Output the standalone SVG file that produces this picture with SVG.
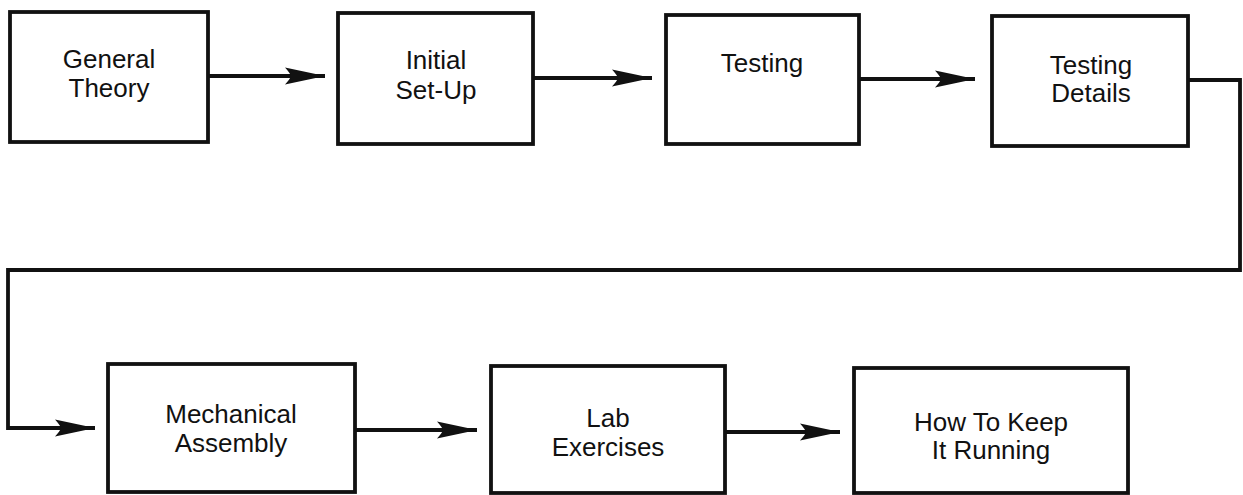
<svg xmlns="http://www.w3.org/2000/svg" width="1243" height="495" viewBox="0 0 1243 495">
<style>
.box{fill:#fff;stroke:#111;stroke-width:3.8}
.ln{fill:none;stroke:#111;stroke-width:3.8;stroke-linejoin:miter}
.t{font-family:"Liberation Sans",Arial,Helvetica,sans-serif;font-size:26px;fill:#111;text-anchor:middle}
</style>
<defs>
<marker id="ah" markerUnits="userSpaceOnUse" markerWidth="44" markerHeight="22" viewBox="-42 -11 44 22" refX="0" refY="0" orient="auto">
<path d="M0,0 L-40,-8.5 Q-35,-3 -34,0 Q-35,3 -40,8.5 Z" fill="#111"/>
</marker>
</defs>
<rect width="1243" height="495" fill="#fff"/>
<g id="connectors">
<path class="ln" d="M208,76 H325" marker-end="url(#ah)"/>
<path class="ln" d="M533,78 H652" marker-end="url(#ah)"/>
<path class="ln" d="M859,79 H975" marker-end="url(#ah)"/>
<path class="ln" d="M1188,80 H1240 V270 H8 V428 H95" marker-end="url(#ah)"/>
<path class="ln" d="M355,430 H477" marker-end="url(#ah)"/>
<path class="ln" d="M725,432 H840" marker-end="url(#ah)"/>
</g>
<g id="n1"><rect class="box" x="10" y="12" width="198" height="130"/><text class="t" x="109" y="68">General</text><text class="t" x="109" y="97">Theory</text></g>
<g id="n2"><rect class="box" x="338" y="13" width="195" height="131"/><text class="t" x="436" y="69">Initial</text><text class="t" x="436" y="99">Set-Up</text></g>
<g id="n3"><rect class="box" x="666" y="15" width="193" height="129"/><text class="t" x="762" y="72">Testing</text></g>
<g id="n4"><rect class="box" x="992" y="16" width="196" height="130"/><text class="t" x="1091" y="74">Testing</text><text class="t" x="1091" y="102">Details</text></g>
<g id="n5"><rect class="box" x="108" y="364" width="247" height="128"/><text class="t" x="231" y="423">Mechanical</text><text class="t" x="231" y="452">Assembly</text></g>
<g id="n6"><rect class="box" x="491" y="366" width="234" height="127"/><text class="t" x="608" y="427">Lab</text><text class="t" x="608" y="456">Exercises</text></g>
<g id="n7"><rect class="box" x="854" y="368" width="274" height="125"/><text class="t" x="991" y="431">How To Keep</text><text class="t" x="991" y="459">It Running</text></g>
</svg>
